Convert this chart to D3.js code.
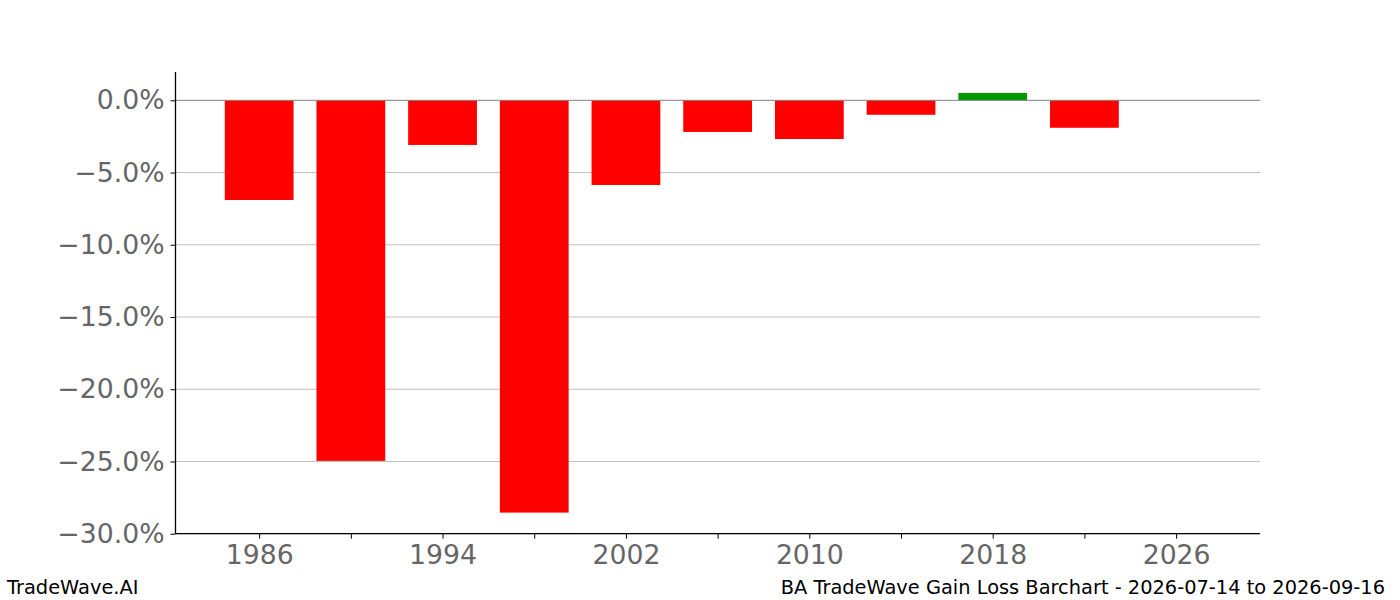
<!DOCTYPE html>
<html>
<head>
<meta charset="utf-8">
<script src="https://cdn.jsdelivr.net/npm/d3@7"></script>
<style>
  body { margin: 0; background: #fff; }
  svg text { font-family: "DejaVu Sans", sans-serif; }
</style>
</head>
<body>
<div id="chart"></div>
<script>
// datos
const years = [1986, 1990, 1994, 1998, 2002, 2006, 2010, 2014, 2018, 2022];
const gains = [-6.90, -24.96, -3.09, -28.54, -5.86, -2.19, -2.68, -1.00, 0.51, -1.90];
const yTicks = [0, -5, -10, -15, -20, -25, -30];
const xTicks = [1986, 1990, 1994, 1998, 2002, 2006, 2010, 2014, 2018, 2022, 2026];
const xLabels = [1986, 1994, 2002, 2010, 2018, 2026];

const W = 1400, H = 600;
const mLeft = 175.5, mRight = 1260, mTop = 72, mBottom = 533.7;

const svg = d3.select('#chart').append('svg')
  .attr('width', W).attr('height', H);

const x = d3.scaleLinear().domain([1982.35, 2029.66]).range([mLeft, mRight]);
const y = d3.scaleLinear().domain([-30, 1.96]).range([mBottom, mTop]);

// rejilla
svg.append('g')
  .selectAll('line')
  .data(yTicks.filter(d => d !== 0))
  .enter().append('line')
  .attr('x1', mLeft).attr('x2', mRight)
  .attr('y1', d => y(d)).attr('y2', d => y(d))
  .attr('stroke', '#c0c0c0').attr('stroke-width', 1);

// barras
svg.append('g')
  .selectAll('rect')
  .data(years.map((yr, i) => ({year: yr, value: gains[i]})))
  .enter().append('rect')
  .attr('x', d => x(d.year - 1.5))
  .attr('width', d => x(d.year + 1.5) - x(d.year - 1.5))
  .attr('y', d => y(Math.max(0, d.value)))
  .attr('height', d => Math.abs(y(d.value) - y(0)))
  .attr('fill', d => d.value >= 0 ? '#009900' : '#ff0000');

// linea cero
svg.append('line')
  .attr('x1', mLeft).attr('x2', mRight)
  .attr('y1', y(0)).attr('y2', y(0))
  .attr('stroke', '#808080').attr('stroke-width', 1);

// ejes
const fmt = d => (d < 0 ? '\u2212' : '') + Math.abs(d).toFixed(1) + '%';

const yAxis = svg.append('g')
  .attr('transform', `translate(${mLeft},0)`)
  .call(d3.axisLeft(y).tickValues(yTicks).tickFormat(fmt).tickSize(5).tickPadding(6));
yAxis.select('.domain').attr('d', `M0,${mTop}V${mBottom}`);

const xAxis = svg.append('g')
  .attr('transform', `translate(0,${mBottom})`)
  .call(d3.axisBottom(x).tickValues(xTicks)
    .tickFormat(d => xLabels.includes(d) ? d : '').tickSize(5).tickPadding(6));
xAxis.select('.domain').attr('d', `M${mLeft},0H${mRight}`);

svg.selectAll('.domain').attr('stroke', '#000').attr('stroke-width', 1.3);
svg.selectAll('.tick line').attr('stroke', '#000');
svg.selectAll('.tick text')
  .attr('font-size', 26.7).attr('fill', '#666');

// pie
svg.append('text')
  .attr('x', 7).attr('y', 594)
  .attr('font-size', 19.4).attr('fill', '#000')
  .text('TradeWave.AI');

svg.append('text')
  .attr('x', 1385).attr('y', 594)
  .attr('text-anchor', 'end')
  .attr('font-size', 19.4).attr('fill', '#000')
  .text('BA TradeWave Gain Loss Barchart - 2026-07-14 to 2026-09-16');
</script>
</body>
</html>
